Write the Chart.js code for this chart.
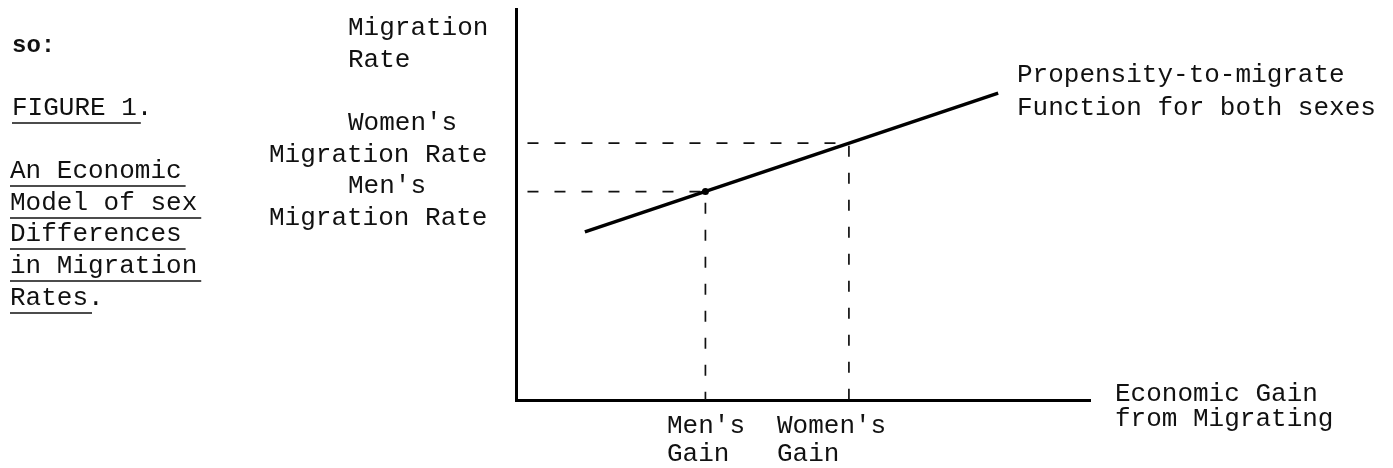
<!DOCTYPE html>
<html>
<head>
<meta charset="utf-8">
<script src="https://cdn.jsdelivr.net/npm/chart.js@4"></script>
<style>
  body { margin: 0; background: #fff; }
  #wrap { width: 1393px; height: 468px; }
</style>
</head>
<body>
<div id="wrap"><canvas id="chart" width="1393" height="468"></canvas></div>
<script>
// economic gain (x) vs migration rate (y), both on a 0-100 scale
const functionGain = [12, 84];
const functionRate = [43, 78.5];
const mensGain = 33;
const mensRate = 53.3;
const womensGain = 58;
const womensRate = 65.7;
const guideStart = 2;

const MONO = '"Liberation Mono", "Courier New", monospace';

// typed labels around the figure
const textLabels = [
  { text: 'so:', x: 12, y: 52, bold: true, size: 24 },
  { text: 'FIGURE 1.', x: 12, y: 115, ul: 8 },
  { text: 'An Economic', x: 10, y: 178, ul: 11 },
  { text: 'Model of sex', x: 10, y: 210, ul: 12 },
  { text: 'Differences', x: 10, y: 241, ul: 11 },
  { text: 'in Migration', x: 10, y: 273, ul: 12 },
  { text: 'Rates.', x: 10, y: 305, ul: 5 },
  { text: 'Migration', x: 348, y: 35 },
  { text: 'Rate', x: 348, y: 67 },
  { text: "Women's", x: 348, y: 130 },
  { text: 'Migration Rate', x: 269, y: 162 },
  { text: "Men's", x: 348, y: 193 },
  { text: 'Migration Rate', x: 269, y: 225 },
  { text: 'Propensity-to-migrate', x: 1017, y: 82 },
  { text: 'Function for both sexes', x: 1017, y: 115 },
  { text: 'Economic Gain', x: 1115, y: 401 },
  { text: 'from Migrating', x: 1115, y: 426 },
  { text: "Men's", x: 667, y: 433 },
  { text: 'Gain', x: 667, y: 461 },
  { text: "Women's", x: 777, y: 433 },
  { text: 'Gain', x: 777, y: 461 }
];

const typedText = {
  id: 'typedText',
  afterDraw(chart) {
    const ctx = chart.ctx;
    ctx.save();
    ctx.fillStyle = '#111';
    ctx.strokeStyle = '#111';
    ctx.textBaseline = 'alphabetic';
    textLabels.forEach(l => {
      ctx.font = (l.bold ? 'bold ' : '') + (l.size || 26) + 'px ' + MONO;
      ctx.fillText(l.text, l.x, l.y);
      if (l.ul) {
        const w = ctx.measureText(l.text.slice(0, l.ul)).width;
        ctx.lineWidth = 1.5;
        ctx.beginPath();
        ctx.moveTo(l.x, l.y + 8);
        ctx.lineTo(l.x + w + 4, l.y + 8);
        ctx.stroke();
      }
    });
    ctx.restore();
  }
};

const guide = (gx, gy) => [
  { x: guideStart, y: gy },
  { x: gx, y: gy },
  { x: gx, y: 0 }
];

new Chart(document.getElementById('chart'), {
  type: 'line',
  data: {
    datasets: [
      {
        data: functionGain.map((g, i) => ({ x: g, y: functionRate[i] })),
        borderColor: '#000',
        borderWidth: 3.5,
        pointRadius: 0
      },
      {
        data: guide(mensGain, mensRate),
        borderColor: '#111',
        borderWidth: 1.7,
        borderDash: [11, 16],
        pointRadius: 0
      },
      {
        data: guide(womensGain, womensRate),
        borderColor: '#111',
        borderWidth: 1.7,
        borderDash: [11, 16],
        pointRadius: 0
      },
      {
        data: [{ x: mensGain, y: mensRate }],
        showLine: false,
        pointRadius: 3.5,
        pointBackgroundColor: '#000',
        pointBorderWidth: 0
      }
    ]
  },
  options: {
    responsive: false,
    animation: false,
    layout: { padding: { left: 516, right: 303, top: 9, bottom: 68 } },
    plugins: { legend: { display: false }, tooltip: { enabled: false } },
    scales: {
      x: {
        type: 'linear', min: 0, max: 100,
        grid: { display: false },
        border: { display: true, color: '#000', width: 3 },
        ticks: { display: false },
        afterFit(scale) { scale.height = 0; }
      },
      y: {
        type: 'linear', min: 0, max: 100,
        grid: { display: false },
        border: { display: true, color: '#000', width: 3 },
        ticks: { display: false },
        afterFit(scale) { scale.width = 0; }
      }
    }
  },
  plugins: [typedText]
});
</script>
</body>
</html>
